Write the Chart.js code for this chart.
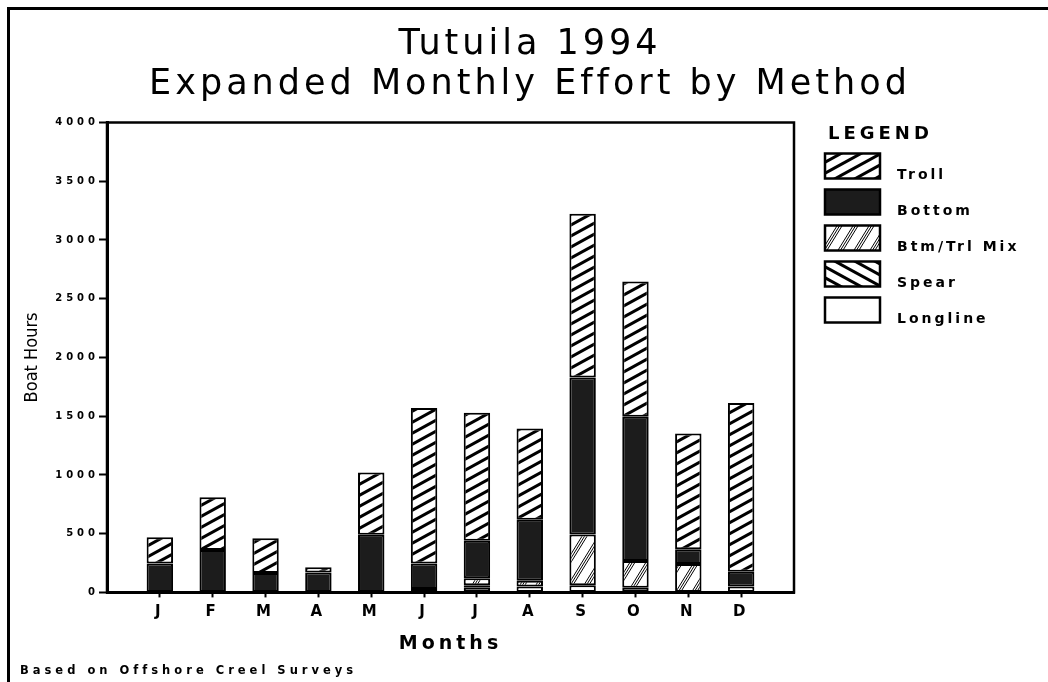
<!DOCTYPE html>
<html>
<head>
<meta charset="utf-8">
<title>Tutuila 1994 - Expanded Monthly Effort by Method</title>
<script src="https://cdn.jsdelivr.net/npm/chart.js@4/dist/chart.umd.min.js"></script>
<style>
  html, body { margin: 0; padding: 0; background: #fff; overflow: hidden; }
  #wrap { position: relative; width: 1048px; height: 682px; }
  #frame {
    position: absolute; left: 7px; top: 7px; right: 0; bottom: 0;
    border-left: 3px solid #000; border-top: 3px solid #000;
    pointer-events: none;
  }
</style>
</head>
<body>
<div id="wrap">
  <canvas id="chart" width="1048" height="682"></canvas>
  <div id="frame"></div>
</div>
<script>
// values (boat hours), stacked bottom -> top
const months = ['J', 'F', 'M', 'A', 'M', 'J', 'J', 'A', 'S', 'O', 'N', 'D'];
const longline = [null, null, null, null, null, 30, 40, 50, 60, 40, null, 50];
const spear    = [null, null, null, null, null, null, 20, null, null, null, null, null];
const btmTrl   = [null, null, null, null, null, null, 60, 50, 433, 227, 242, null];
const bottom   = [245, 360, 165, 170, 490, 215, 320, 518, 1336, 1228, 125, 125];
const troll    = [225, 450, 295, 45, 530, 1325, 1090, 777, 1394, 1152, 986, 1437];
const yTicks   = [0, 500, 1000, 1500, 2000, 2500, 3000, 3500, 4000];

Chart.defaults.font.family = "'DejaVu Sans', sans-serif";
Chart.defaults.color = '#000';

// diagonal stripes, dir 1 = "/", -1 = "\"
function hatch(dir, period, slope, lw) {
  const w = 40, h = Math.round(w * slope);
  const c = document.createElement('canvas');
  c.width = w; c.height = h;
  const g = c.getContext('2d');
  g.fillStyle = '#fff';
  g.fillRect(0, 0, w, h);
  g.strokeStyle = '#000';
  g.lineWidth = lw;
  for (let t = -2 * h; t <= 3 * h; t += period) {
    g.beginPath();
    if (dir > 0) { g.moveTo(-2, t + 2 * slope); g.lineTo(w + 2, t - h - 2 * slope); }
    else { g.moveTo(-2, t - h - 2 * slope); g.lineTo(w + 2, t + 2 * slope); }
    g.stroke();
  }
  return g.createPattern(c, 'repeat');
}

function mixHatch() {
  const w = 16, h = 26;
  const c = document.createElement('canvas');
  c.width = w; c.height = h;
  const g = c.getContext('2d');
  g.fillStyle = '#fff';
  g.fillRect(0, 0, w, h);
  g.strokeStyle = '#000';
  g.lineWidth = 1;
  for (const d of [0, 2.5, 5]) {
    for (let k = -1; k <= 1; k++) {
      g.beginPath();
      g.moveTo(k * w + d, h);
      g.lineTo((k + 1) * w + d, 0);
      g.stroke();
    }
  }
  return g.createPattern(c, 'repeat');
}

const trollFill = hatch(1, 11, 0.55, 3);
const spearFill = hatch(-1, 11, 0.55, 3);
const mixFill = mixHatch();
const bottomFill = '#1c1c1c';
const longFill = '#ffffff';

function ds(label, data, fill) {
  return {
    label: label,
    data: data,
    backgroundColor: fill,
    borderColor: '#000',
    borderWidth: 2,
    borderSkipped: false,
    barPercentage: 0.5,
    categoryPercentage: 1
  };
}

// wide letter spacing like the old plotter font
const spacing = {
  id: 'spacing',
  beforeDraw(chart) { chart.ctx.letterSpacing = '4px'; },
  afterDraw(chart) { chart.ctx.letterSpacing = '0px'; }
};

const plotBox = {
  id: 'plotBox',
  afterDatasetsDraw(chart) {
    const { ctx, chartArea: a } = chart;
    ctx.save();
    ctx.strokeStyle = '#000';
    ctx.lineWidth = 2.5;
    ctx.strokeRect(a.left, a.top, a.right - a.left, a.bottom - a.top);
    ctx.restore();
  }
};

const sideText = {
  id: 'sideText',
  afterDraw(chart) {
    const { ctx, chartArea: a } = chart;
    ctx.save();
    // y axis title
    ctx.letterSpacing = '0px';
    ctx.translate(32, (a.top + a.bottom) / 2);
    ctx.rotate(-Math.PI / 2);
    ctx.font = "18px 'Liberation Sans Narrow', 'DejaVu Sans Condensed', 'Liberation Sans', sans-serif";
    ctx.fillStyle = '#000';
    ctx.textAlign = 'center';
    ctx.textBaseline = 'middle';
    ctx.fillText('Boat Hours', 0, 0);
    ctx.restore();

    // legend, top item = top of stack
    const x0 = a.right + 31, y0 = a.top + 31;
    ctx.save();
    ctx.fillStyle = '#000';
    ctx.letterSpacing = '4px';
    ctx.font = "bold 18px 'DejaVu Sans', sans-serif";
    ctx.textBaseline = 'alphabetic';
    ctx.fillText('LEGEND', x0 + 3, y0 - 15);
    ctx.letterSpacing = '3px';
    ctx.font = "bold 14px 'DejaVu Sans', sans-serif";
    const items = chart.data.datasets.slice().reverse();
    items.forEach((d, i) => {
      const y = y0 + i * 36;
      ctx.fillStyle = d.backgroundColor;
      ctx.fillRect(x0, y, 55, 25);
      ctx.strokeStyle = '#000';
      ctx.lineWidth = 2.5;
      ctx.strokeRect(x0, y, 55, 25);
      ctx.fillStyle = '#000';
      ctx.fillText(d.label, x0 + 72, y + 25);
    });
    ctx.restore();
  }
};

new Chart(document.getElementById('chart'), {
  type: 'bar',
  data: {
    labels: months,
    datasets: [
      ds('Longline', longline, longFill),
      ds('Spear', spear, spearFill),
      ds('Btm/Trl Mix', btmTrl, mixFill),
      ds('Bottom', bottom, bottomFill),
      ds('Troll', troll, trollFill)
    ]
  },
  options: {
    responsive: false,
    animation: false,
    devicePixelRatio: 1,
    layout: { padding: { left: 20, right: 8, top: 0, bottom: 0 } },
    plugins: {
      legend: { display: false },
      tooltip: { enabled: false },
      title: {
        display: true,
        text: ['Tutuila 1994', 'Expanded Monthly Effort by Method'],
        font: { size: 35, weight: 'normal', lineHeight: 1.15 },
        padding: { top: 25, bottom: 17 }
      },
      subtitle: {
        display: true,
        position: 'bottom',
        align: 'start',
        text: 'Based on Offshore Creel Surveys',
        font: { size: 11.5, weight: 'bold' },
        padding: { top: 5, bottom: 4 }
      }
    },
    scales: {
      x: {
        stacked: true,
        offset: true,
        // half an empty slot on each side of the months
        afterBuildTicks(s) { s._startValue -= 0.5; s._valueRange += 1; },
        grid: { drawOnChartArea: false, offset: false, tickLength: 5, tickWidth: 2, tickColor: '#000' },
        border: { color: '#000', width: 3 },
        ticks: { font: { size: 15, weight: 'bold' }, padding: 6 },
        title: { display: true, text: 'Months', font: { size: 19, weight: 'bold' }, padding: { top: 5, bottom: 4 } }
      },
      y: {
        stacked: true,
        min: yTicks[0],
        max: yTicks[yTicks.length - 1],
        afterBuildTicks(s) { s.ticks = yTicks.map(v => ({ value: v })); },
        ticks: { font: { size: 10, weight: 'bold' }, padding: 0, callback: v => String(v) },
        grid: { drawOnChartArea: false, tickLength: 8, tickWidth: 2, tickColor: '#000' },
        border: { color: '#000', width: 3 },
        afterFit(s) { s.width = 87; }
      },
      yr: {
        position: 'right',
        grid: { display: false },
        border: { display: false },
        ticks: { display: false },
        afterFit(s) { s.width = 246; }
      }
    }
  },
  plugins: [spacing, plotBox, sideText]
});
</script>
</body>
</html>
